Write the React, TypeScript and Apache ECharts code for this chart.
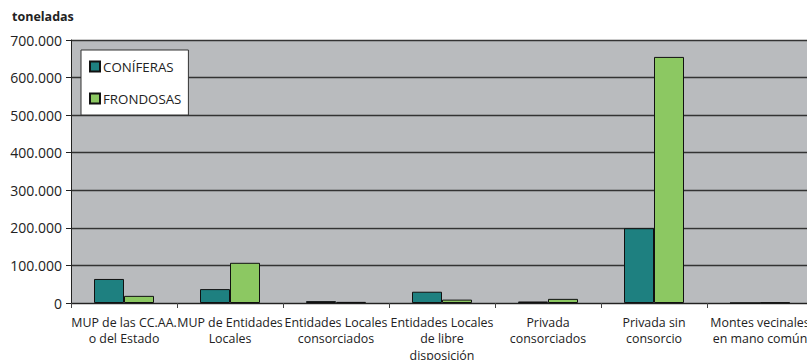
import React, { useEffect, useRef } from "react";
import * as echarts from "echarts";

const categories = [
  "MUP de las CC.AA.\no del Estado",
  "MUP de Entidades\nLocales",
  "Entidades Locales\nconsorciados",
  "Entidades Locales\nde libre\ndisposición",
  "Privada\nconsorciados",
  "Privada sin\nconsorcio",
  "Montes vecinales\nen mano común",
];
const coniferas = [64000, 37000, 5000, 30000, 4000, 199000, 0];
const frondosas = [19000, 107000, 3000, 9000, 11000, 655000, 1500];
const seriesNames = ["CONÍFERAS", "FRONDOSAS"];

const fmt = (v: number) => (v === 0 ? "0" : v.toLocaleString("de-DE"));

export default function App() {
  const ref = useRef<HTMLDivElement>(null);
  useEffect(() => {
    const chart = echarts.init(ref.current!, null, { renderer: "svg" });
    const font = "'Open Sans', sans-serif";
    chart.setOption({
      animation: false,
      textStyle: { fontFamily: font },
      title: {
        text: "toneladas",
        left: 7,
        top: 5,
        textStyle: { fontSize: 12.5, fontWeight: "bold", color: "#222", fontFamily: font },
      },
      legend: {
        orient: "vertical",
        left: 81,
        top: 50,
        backgroundColor: "#ffffff",
        borderColor: "#333",
        borderWidth: 1,
        padding: [10, 7, 10, 8],
        itemWidth: 10,
        itemHeight: 10,
        itemGap: 19,
        icon: "rect",
        textStyle: { fontSize: 13.3, color: "#222", fontFamily: font, padding: [0, 0, 0, -2] },
        data: seriesNames,
      },
      grid: { left: 71, top: 40, width: 742, height: 263, outerBoundsMode: "none", containLabel: false },
      xAxis: {
        type: "category",
        data: categories,
        axisLine: { lineStyle: { color: "#222", width: 1 } },
        axisTick: { show: true, length: 5, lineStyle: { color: "#444" } },
        axisLabel: {
          interval: 0,
          fontSize: 12.4,
          color: "#222",
          lineHeight: 16.5,
          margin: 11,
          fontFamily: font,
        },
      },
      yAxis: {
        type: "value",
        min: 0,
        max: 700000,
        interval: 100000,
        axisLine: { show: true, lineStyle: { color: "#222" } },
        axisTick: { show: true, length: 5, lineStyle: { color: "#222" } },
        axisLabel: {
          formatter: (v: number) => fmt(v),
          fontSize: 14,
          color: "#222",
          margin: 9,
          fontFamily: font,
        },
        splitLine: { lineStyle: { color: "#333", width: 1.3 } },
        splitArea: { show: true, areaStyle: { color: ["#b9bbbe", "#b9bbbe"] } },
      },
      series: [
        {
          name: seriesNames[0],
          type: "bar",
          data: coniferas,
          barWidth: 30,
          barGap: "0%",
          itemStyle: { color: "#1e8080", borderColor: "#111", borderWidth: 1 },
        },
        {
          name: seriesNames[1],
          type: "bar",
          data: frondosas,
          barWidth: 30,
          barGap: "0%",
          itemStyle: { color: "#8cc862", borderColor: "#111", borderWidth: 1 },
        },
      ],
    });
    return () => chart.dispose();
  }, []);
  return <div ref={ref} style={{ width: 807, height: 360, position: "absolute", left: 0, top: 0 }} />;
}
